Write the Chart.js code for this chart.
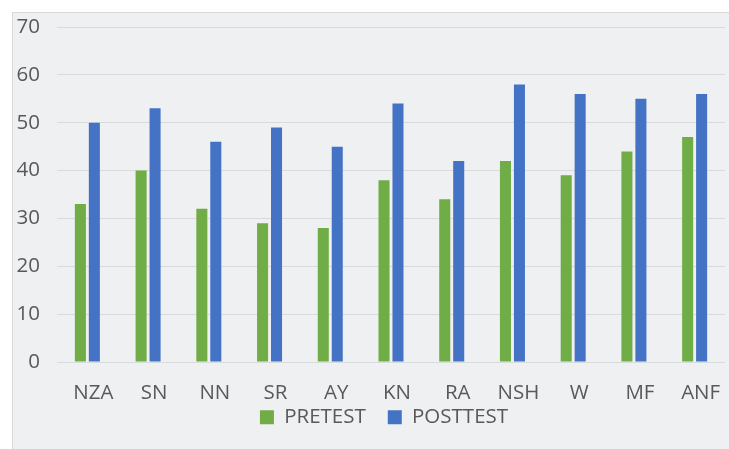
<!DOCTYPE html>
<html>
<head>
<meta charset="utf-8">
<script src="https://cdn.jsdelivr.net/npm/chart.js@4"></script>
<style>
  html, body { margin: 0; padding: 0; background: #ffffff; }
  #frame {
    position: absolute; left: 12px; top: 12px; width: 716px; height: 436px;
    background: #eff0f2; border: 1px solid #d9d9d9; border-bottom: none;
  }
</style>
</head>
<body>
<div id="frame"><canvas id="chart"></canvas></div>
<script>
const categories = ["NZA", "SN", "NN", "SR", "AY", "KN", "RA", "NSH", "W", "MF", "ANF"];
const pretest = [33, 40, 32, 29, 28, 38, 34, 42, 39, 44, 47];
const posttest = [50, 53, 46, 49, 45, 54, 42, 58, 56, 55, 56];
const yTicks = [0, 10, 20, 30, 40, 50, 60, 70];

const textColor = "#595959";
const fontFamily = "'Open Sans', sans-serif";
const fontSize = 20.5;

// pull the legend up under the category labels and nudge it right a bit
const legendNudge = {
  id: "legendNudge",
  afterLayout(chart) {
    const legend = chart.legend;
    if (!legend) return;
    legend.top -= 22;
    legend.bottom -= 22;
    legend.left += 15;
    legend.right += 15;
  },
};

new Chart(document.getElementById("chart"), {
  type: "bar",
  data: {
    labels: categories,
    datasets: [
      { label: "PRETEST", data: pretest, backgroundColor: "#70ad47", categoryPercentage: 0.46, barPercentage: 0.79 },
      { label: "POSTTEST", data: posttest, backgroundColor: "#4472c4", categoryPercentage: 0.46, barPercentage: 0.79 },
    ],
  },
  options: {
    responsive: true,
    maintainAspectRatio: false,
    animation: false,
    layout: { padding: { left: 0, right: 4, top: 14, bottom: -10.5 } },
    plugins: {
      legend: {
        position: "bottom",
        labels: {
          color: textColor,
          font: { family: fontFamily, size: fontSize },
          boxWidth: 14,
          boxHeight: 14,
          padding: 22,
        },
      },
      tooltip: { enabled: false },
    },
    scales: {
      x: {
        grid: { display: false },
        border: { display: false },
        afterFit: (axis) => { axis.height = 45; },
        ticks: { color: textColor, font: { family: fontFamily, size: fontSize }, padding: 11, labelOffset: 6 },
      },
      y: {
        min: 0,
        max: 70,
        afterBuildTicks: (axis) => { axis.ticks = yTicks.map((v) => ({ value: v })); },
        afterFit: (axis) => {
          axis.width = 44;
          axis.paddingTop = 0;
          axis.paddingBottom = 0;
        },
        grid: { color: "#d9dadc", lineWidth: 1, drawTicks: false },
        border: { display: false },
        ticks: { color: textColor, font: { family: fontFamily, size: fontSize }, padding: 17 },
      },
    },
  },
  plugins: [legendNudge],
});
</script>
</body>
</html>
